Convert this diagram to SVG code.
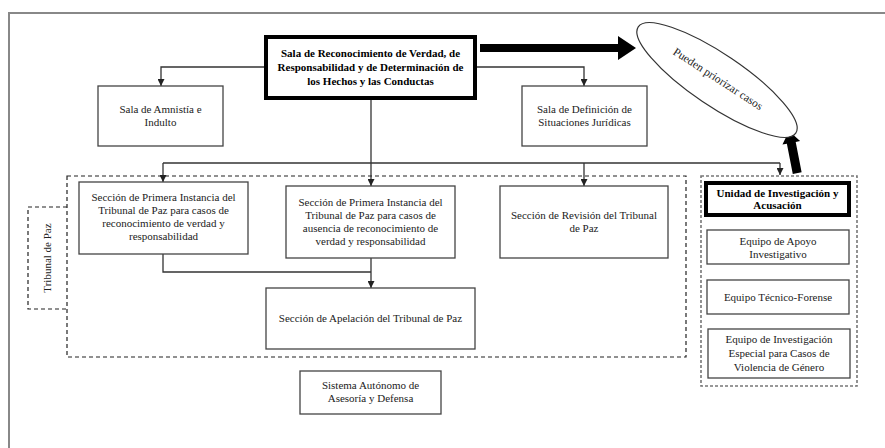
<svg xmlns="http://www.w3.org/2000/svg" width="885" height="448" viewBox="0 0 885 448">
<defs>
<style>
.box{fill:#fff;stroke:#444;stroke-width:1.3}
.thick{fill:#fff;stroke:#000;stroke-width:4}
.t{font-family:"Liberation Serif","Times New Roman",serif;font-size:11px;fill:#222;text-anchor:middle}
.b{font-weight:bold;fill:#000}
.con{fill:none;stroke:#333;stroke-width:1.3}
.dash{fill:none;stroke:#222;stroke-width:1.2;stroke-dasharray:4 3}
.gdash{fill:none;stroke:#777;stroke-width:1.6;stroke-dasharray:3 2}
</style>
<marker id="ah" viewBox="0 0 10 10" refX="10" refY="5" markerWidth="7" markerHeight="7" markerUnits="userSpaceOnUse" orient="auto">
<path d="M0,0 L10,5 L0,10 z" fill="#222"/>
</marker>
</defs>
<rect width="885" height="448" fill="#fff"/>
<g id="frame"><path d="M9,448 V13 H885" fill="none" stroke="#888" stroke-width="2"/></g>

<g id="connectors">
<path class="con" d="M264,67 H161 V86" marker-end="url(#ah)"/>
<path class="con" d="M477,67 H584 V86" marker-end="url(#ah)"/>
<path class="con" d="M371,100 V186" marker-end="url(#ah)"/>
<path class="con" d="M163,163 H780"/>
<path class="con" d="M163,163 V182" marker-end="url(#ah)"/>
<path class="con" d="M584,163 V186" marker-end="url(#ah)"/>
<path class="con" d="M780,163 V175" marker-end="url(#ah)"/>
<path class="con" d="M163,254 V272 H371"/>
<path class="con" d="M371,258 V288" marker-end="url(#ah)"/>
<polygon points="480,44 618,44 618,36 636,48 618,60 618,52 480,52" fill="#000"/>
<polygon transform="translate(789,131) rotate(-11)" points="0,0 9,12 4.5,12 4.5,43 -4.5,43 -4.5,12 -9,12" fill="#000"/>
</g>

<g id="tribunal-group">
<rect class="dash" x="67" y="176" width="619" height="181"/>
<path class="dash" d="M67,207 H28 V309 H67"/>
<text class="t" transform="translate(51,258) rotate(-90)">Tribunal de Paz</text>
</g>

<g id="unidad-group">
<rect class="gdash" x="701" y="176" width="156" height="210"/>
</g>

<g id="sala-reconocimiento">
<rect class="thick" x="266" y="37" width="209" height="61"/>
<text class="t b" x="370.5" y="57">Sala de Reconocimiento de Verdad, de</text>
<text class="t b" x="370.5" y="71">Responsabilidad y de Determinación de</text>
<text class="t b" x="370.5" y="84.5">los Hechos y las Conductas</text>
</g>

<g id="sala-amnistia">
<rect class="box" x="98" y="86" width="125" height="60"/>
<text class="t" x="160.5" y="113">Sala de Amnistía e</text>
<text class="t" x="160.5" y="126">Indulto</text>
</g>

<g id="sala-definicion">
<rect class="box" x="522" y="86" width="125" height="60"/>
<text class="t" x="584.5" y="113">Sala de Definición de</text>
<text class="t" x="584.5" y="126">Situaciones Jurídicas</text>
</g>

<g id="priorizar">
<ellipse cx="717" cy="80" rx="95" ry="26" transform="rotate(34 717 80)" fill="#fff" stroke="#333" stroke-width="1.2"/>
<text class="t" style="font-size:11.5px" transform="translate(716,82) rotate(33)">Pueden priorizar casos</text>
</g>

<g id="seccion-reconocimiento">
<rect class="box" x="79" y="182" width="169" height="72"/>
<text class="t" x="163.5" y="201">Sección de Primera Instancia del</text>
<text class="t" x="163.5" y="214">Tribunal de Paz para casos de</text>
<text class="t" x="163.5" y="227">reconocimiento de verdad y</text>
<text class="t" x="163.5" y="240">responsabilidad</text>
</g>

<g id="seccion-ausencia">
<rect class="box" x="286" y="186" width="169" height="72"/>
<text class="t" x="370.5" y="206">Sección de Primera Instancia del</text>
<text class="t" x="370.5" y="219">Tribunal de Paz para casos de</text>
<text class="t" x="370.5" y="232">ausencia de reconocimiento de</text>
<text class="t" x="370.5" y="245">verdad y responsabilidad</text>
</g>

<g id="seccion-revision">
<rect class="box" x="500" y="186" width="168" height="72"/>
<text class="t" x="584" y="219">Sección de Revisión del Tribunal</text>
<text class="t" x="584" y="232">de Paz</text>
</g>

<g id="seccion-apelacion">
<rect class="box" x="266" y="288" width="209" height="61"/>
<text class="t" x="370.5" y="322">Sección de Apelación del Tribunal de Paz</text>
</g>

<g id="sistema-autonomo">
<rect class="box" x="300" y="371" width="141" height="43"/>
<text class="t" x="370.5" y="389">Sistema Autónomo de</text>
<text class="t" x="370.5" y="402">Asesoría y Defensa</text>
</g>

<g id="unidad-investigacion">
<rect class="thick" x="706" y="183" width="143" height="32"/>
<text class="t b" x="777.5" y="196.5">Unidad de Investigación y</text>
<text class="t b" x="777.5" y="209">Acusación</text>
</g>

<g id="equipo-apoyo">
<rect class="box" x="707" y="230" width="142" height="34"/>
<text class="t" x="778" y="245">Equipo de Apoyo</text>
<text class="t" x="778" y="258">Investigativo</text>
</g>

<g id="equipo-tecnico">
<rect class="box" x="707" y="280" width="142" height="34"/>
<text class="t" x="778" y="301">Equipo Técnico-Forense</text>
</g>

<g id="equipo-genero">
<rect class="box" x="708" y="329" width="142" height="49"/>
<text class="t" x="779" y="343">Equipo de Investigación</text>
<text class="t" x="779" y="357">Especial para Casos de</text>
<text class="t" x="779" y="371">Violencia de Género</text>
</g>
</svg>
